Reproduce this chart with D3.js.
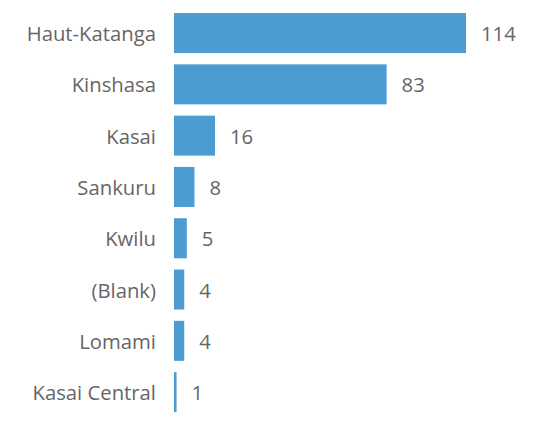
<!DOCTYPE html>
<html>
<head>
<meta charset="utf-8">
<script src="https://cdn.jsdelivr.net/npm/d3@7"></script>
<style>
  body { margin: 0; background: #fff; }
  text { font-family: "Open Sans", sans-serif; fill: #666; }
</style>
</head>
<body>
<script>
'use strict';
(function() {

  // provinces and counts
  let provinces = ["Haut-Katanga", "Kinshasa", "Kasai", "Sankuru", "Kwilu", "(Blank)", "Lomami", "Kasai Central"];
  let counts = [114, 83, 16, 8, 5, 4, 4, 1];

  let width = 541;
  let height = 425;

  let svg = d3.select('body')
    .append('svg')
    .attr('width', width)
    .attr('height', height);

  // x scale: bars start at 174, 114 ends near 466
  let xScale = d3.scaleLinear()
    .domain([0, 114])
    .range([174, 466]);

  let yScale = d3.scaleBand()
    .domain(provinces)
    .range([7.4, 417.8])
    .paddingInner(0.22)
    .paddingOuter(0.11);

  let rows = provinces.map((p, i) => ({ name: p, value: counts[i] }));

  // bars
  svg.selectAll('.bar')
    .data(rows)
    .enter()
    .append('rect')
      .attr('class', 'bar')
      .attr('x', xScale(0))
      .attr('y', (d) => yScale(d.name))
      .attr('width', (d) => xScale(d.value) - xScale(0))
      .attr('height', yScale.bandwidth())
      .attr('fill', '#4b9cd2');

  // category labels on the left
  let yAxis = d3.axisLeft(yScale).tickSize(0).tickPadding(0);
  let axisG = svg.append('g')
    .attr('transform', 'translate(156, 0)')
    .call(yAxis);
  axisG.select('.domain').remove();
  axisG.selectAll('text')
    .attr('dy', '0.4em')
    .style('font-size', '20.3px')
    .style('font-family', '"Open Sans", sans-serif')
    .attr('fill', '#666');

  // value labels right of each bar
  svg.selectAll('.value')
    .data(rows)
    .enter()
    .append('text')
      .attr('class', 'value')
      .attr('x', (d) => xScale(d.value) + 15)
      .attr('y', (d) => yScale(d.name) + yScale.bandwidth() / 2)
      .attr('dy', '0.4em')
      .style('font-size', '20.3px')
      .text((d) => d.value);

})();
</script>
</body>
</html>
